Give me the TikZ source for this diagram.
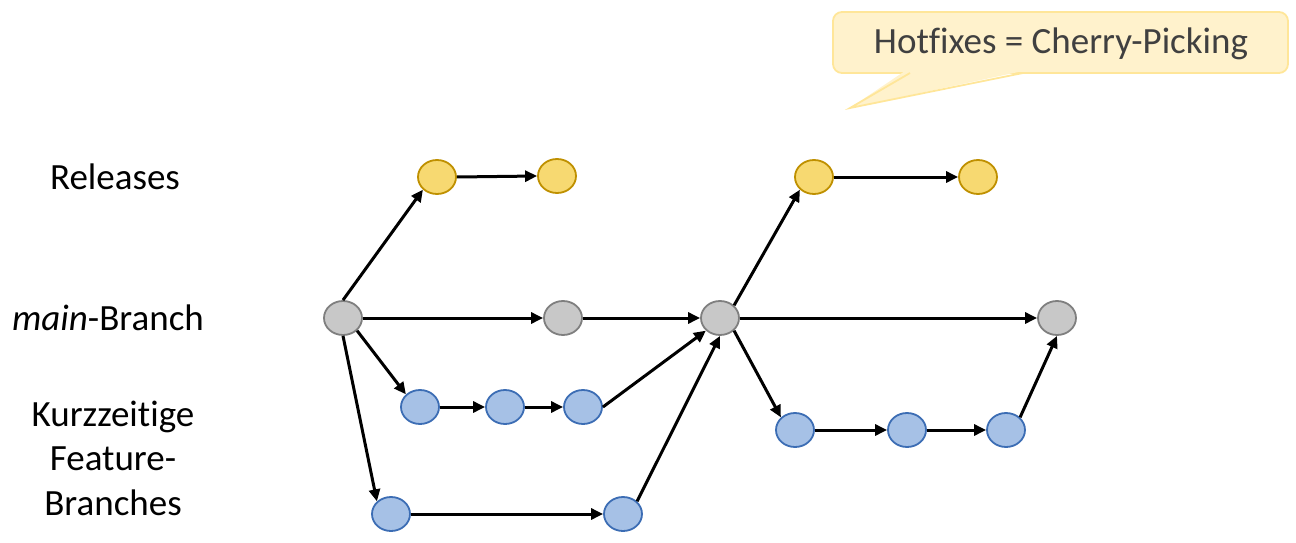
\documentclass[tikz,border=0pt]{standalone}
\usepackage{fontspec}
\setmainfont{Carlito}[Ligatures=NoCommon]
\usetikzlibrary{shapes.geometric,arrows.meta}
\definecolor{relfill}{HTML}{F7D971}
\definecolor{reldraw}{HTML}{BF9000}
\definecolor{mainfill}{HTML}{C8C8C8}
\definecolor{maindraw}{HTML}{7F7F7F}
\definecolor{featfill}{HTML}{A6C1E6}
\definecolor{featdraw}{HTML}{3C6DB4}
\definecolor{notefill}{HTML}{FFF2CC}
\definecolor{notedraw}{HTML}{FFE699}
\definecolor{notetext}{HTML}{404040}
\tikzset{
  commit/.style={ellipse, minimum width=38pt, minimum height=34pt, inner sep=0pt, line width=1.8pt},
  rel/.style={commit, fill=relfill, draw=reldraw},
  mainc/.style={commit, fill=mainfill, draw=maindraw},
  feat/.style={commit, fill=featfill, draw=featdraw},
  conn/.style={line width=3pt, -{Triangle[length=12pt,width=11pt]}},
  lbl/.style={font=\fontsize{37}{44.5}\selectfont, align=center, text=black},
}
\begin{document}
\begin{tikzpicture}[x=1pt,y=-1pt]
\useasboundingbox (0,0) rectangle (1296,543);
% callout
\draw[fill=notefill, draw=notedraw, line width=1.8pt, rounded corners=9pt]
  (910,73) -- (1288,73) -- (1288,12) -- (833,12) -- (833,73) -- (910,73);
\fill[notefill] (905,71) -- (850,108) -- (1023,71) -- cycle;
\draw[notedraw, line width=1.8pt, line join=miter] (910,73) -- (850,108) -- (1023,73);
\node[text=notetext, font=\fontsize{37}{44}\selectfont] (note) at (1061,44) {Hotfixes = Cherry-Picking};
% labels
\node[lbl] (lrel) at (115,177) {Releases};
\node[lbl] (lmain) at (108,318) {\textit{main}-Branch};
\node[lbl] (lfeat) at (113,458) {Kurzzeitige\\Feature-\\Branches};
% commits
\node[rel] (r1) at (437,177) {};
\node[rel] (r2) at (557,176) {};
\node[rel] (r3) at (814,177) {};
\node[rel] (r4) at (978,177) {};
\node[mainc] (m1) at (343,318) {};
\node[mainc] (m2) at (563,318) {};
\node[mainc] (m3) at (720,318) {};
\node[mainc] (m4) at (1057,318) {};
\node[feat] (a1) at (420,407) {};
\node[feat] (a2) at (505,407) {};
\node[feat] (a3) at (583,407) {};
\node[feat] (b1) at (391,514) {};
\node[feat] (b2) at (623,514) {};
\node[feat] (c1) at (795,430) {};
\node[feat] (c2) at (907,430) {};
\node[feat] (c3) at (1006,430) {};
% connectors
\draw[conn] (m1.north) -- (r1.south west);
\draw[conn] (r1.east) -- (r2.west);
\draw[conn] (m1.east) -- (m2.west);
\draw[conn] (m1.south east) -- (a1.north west);
\draw[conn] (m1.south) -- (b1.north west);
\draw[conn] (a1.east) -- (a2.west);
\draw[conn] (a2.east) -- (a3.west);
\draw[conn] (b1.east) -- (b2.west);
\draw[conn] (m2.east) -- (m3.west);
\draw[conn] (a3.east) -- (m3.south west);
\draw[conn] (b2.north east) -- (m3.south);
\draw[conn] (m3.north east) -- (r3.south west);
\draw[conn] (r3.east) -- (r4.west);
\draw[conn] (m3.east) -- (m4.west);
\draw[conn] (m3.south east) -- (c1.north west);
\draw[conn] (c1.east) -- (c2.west);
\draw[conn] (c2.east) -- (c3.west);
\draw[conn] (c3.north east) -- (m4.south);
\end{tikzpicture}
\end{document}
